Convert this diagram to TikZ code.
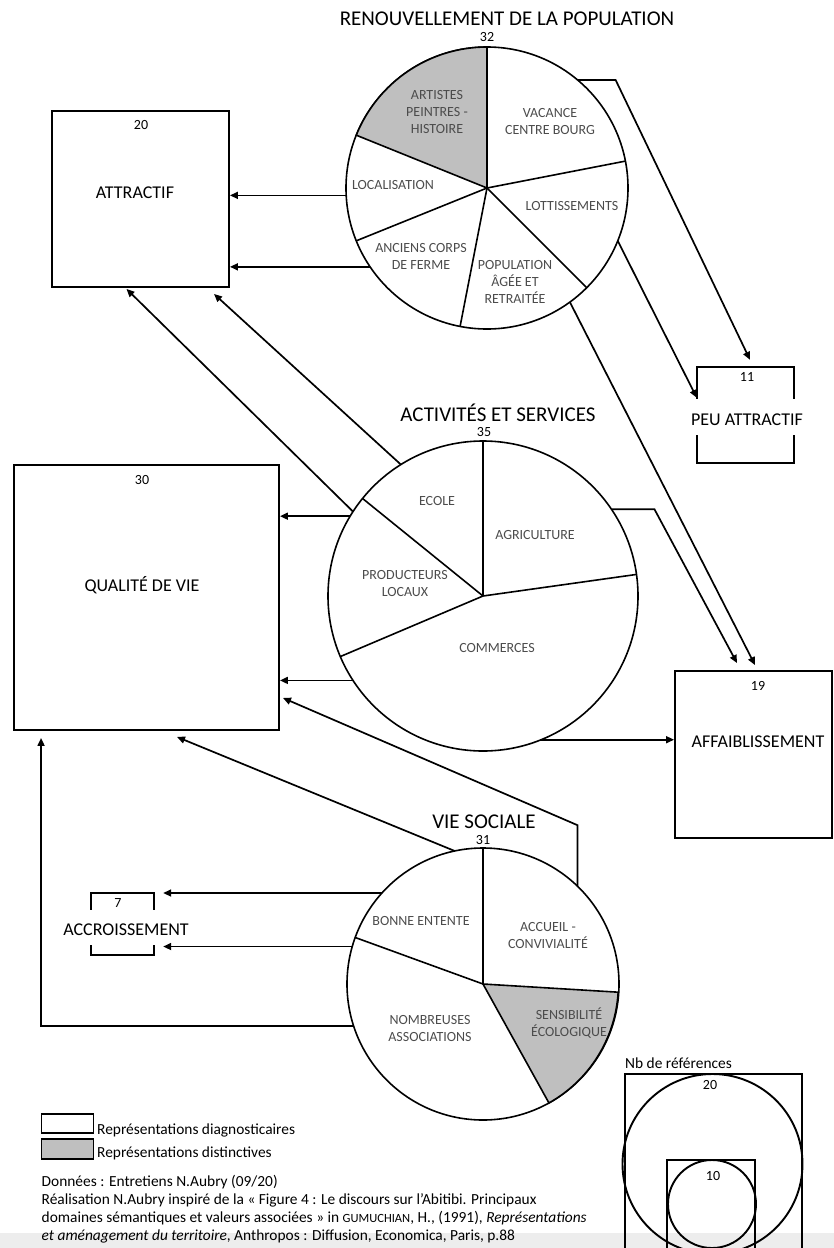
\documentclass[tikz,border=0pt]{standalone}
\usepackage{fontspec}
\setmainfont{Carlito}
\usetikzlibrary{arrows.meta}
\tikzset{%
	piedisc/.style = { circle, draw, line width=1.6pt, inner sep=0pt, outer sep=0pt },
	slicecut/.style = { line width=1.6pt },
	distinctive/.style = { fill=black!25, draw, line width=1.6pt },
	flow/.style = { line width=1.7pt, -{Triangle[length=8pt, width=7pt]} },
	bigbox/.style = { draw, line width=1.9pt, inner sep=0pt },
	hollowbox/.style = { inner sep=0pt },
	bracketline/.style = { line width=1.9pt },
	grouptitle/.style = { font=\fontsize{21}{24}\selectfont },
	boxtext/.style = { font=\fontsize{18}{21}\selectfont },
	countnum/.style = { font=\fontsize{14}{16}\selectfont },
	slicetext/.style = { font=\fontsize{14}{17}\selectfont, text=black!70, align=center },
	notetext/.style = { font=\fontsize{15.4}{18}\selectfont, anchor=base west, inner sep=0pt }
}

\begin{document}
\begin{tikzpicture}[x=1pt, y=1pt]
	\useasboundingbox (0,0) rectangle (834,-1248);
	\clip (0,0) rectangle (834,-1248);
	% bande grise du bas
	\fill[black!7] (0,-1233) rectangle (834,-1248);

	% renouvellement de la population
	\node[grouptitle] (renouvtitle) at (507,-19) {RENOUVELLEMENT DE LA POPULATION};
	\node[countnum] (renouvnum) at (487,-37) {32};
	\node[piedisc, minimum size=282] (renouv) at (487,-188) {};
	\filldraw[distinctive] (renouv.center) -- (renouv.90) arc[start angle=90, end angle=158, radius=141] -- cycle;
	\foreach \a in {11,315,259,202}
		\draw[slicecut] (renouv.center) -- (renouv.\a);
	\node[slicetext] (artistes) at (437,-112) {ARTISTES\\PEINTRES -\\HISTOIRE};
	\node[slicetext] (vacance) at (550,-122) {VACANCE\\CENTRE BOURG};
	\node[slicetext] (localisation) at (393,-185) {LOCALISATION};
	\node[slicetext] (lottissements) at (572,-206) {LOTTISSEMENTS};
	\node[slicetext] (anciens) at (421,-256) {ANCIENS CORPS\\DE FERME};
	\node[slicetext] (population) at (515,-282) {POPULATION\\ÂGÉE ET\\RETRAITÉE};

	% activites et services
	\node[grouptitle] (activtitle) at (498,-413) {ACTIVITÉS ET SERVICES};
	\node[countnum] (activnum) at (484,-432) {35};
	\node[piedisc, minimum size=310] (activ) at (483,-596) {};
	\foreach \a in {90,8,203,141}
		\draw[slicecut] (activ.center) -- (activ.\a);
	\node[slicetext] (ecole) at (437,-501) {ECOLE};
	\node[slicetext] (agriculture) at (535,-535) {AGRICULTURE};
	\node[slicetext] (producteurs) at (405,-583) {PRODUCTEURS\\LOCAUX};
	\node[slicetext] (commerces) at (497,-648) {COMMERCES};

	% vie sociale
	\node[grouptitle] (vietitle) at (484,-822) {VIE SOCIALE};
	\node[countnum] (vienum) at (483,-840) {31};
	\node[piedisc, minimum size=272] (vie) at (483,-984) {};
	\filldraw[distinctive] (vie.center) -- (vie.299.3) arc[start angle=299.3, end angle=356.7, radius=136] -- cycle;
	\foreach \a in {90,160.3}
		\draw[slicecut] (vie.center) -- (vie.\a);
	\node[slicetext] (entente) at (421,-921) {BONNE ENTENTE};
	\node[slicetext] (accueil) at (548,-935) {ACCUEIL -\\CONVIVIALITÉ};
	\node[slicetext] (sensibilite) at (569,-1023) {SENSIBILITÉ\\ÉCOLOGIQUE};
	\node[slicetext] (associations) at (430,-1028) {NOMBREUSES\\ASSOCIATIONS};

	% valeurs
	\node[bigbox, minimum width=177, minimum height=176] (attractif) at (140.5,-199) {};
	\node[countnum] (attractifnum) at (141,-125) {20};
	\node[boxtext] (attractiftext) at (135,-193) {ATTRACTIF};

	\node[bigbox, minimum width=265, minimum height=265] (qual) at (146.5,-597.5) {};
	\node[countnum] (qualnum) at (142,-480) {30};
	\node[boxtext] (qualtext) at (142,-585) {QUALITÉ DE VIE};

	\node[bigbox, minimum width=157, minimum height=167] (aff) at (753.5,-754.5) {};
	\node[countnum] (affnum) at (758,-686) {19};
	\node[boxtext] (afftext) at (758,-742) {AFFAIBLISSEMENT};

	\node[hollowbox, minimum width=97, minimum height=96] (peu) at (745.5,-415) {};
	\draw[bracketline] ([yshift=-32]peu.north west) -- (peu.north west) -- (peu.north east) -- ([yshift=-32]peu.north east);
	\draw[bracketline] ([yshift=28]peu.south west) -- (peu.south west) -- (peu.south east) -- ([yshift=28]peu.south east);
	\node[countnum] (peunum) at (747,-377) {11};
	\node[boxtext] (peutext) at (747,-420) {PEU ATTRACTIF};

	\node[hollowbox, minimum width=63, minimum height=62] (acc) at (122.5,-924) {};
	\draw[bracketline] ([yshift=-17]acc.north west) -- (acc.north west) -- (acc.north east) -- ([yshift=-17]acc.north east);
	\draw[bracketline] ([yshift=10]acc.south west) -- (acc.south west) -- (acc.south east) -- ([yshift=10]acc.south east);
	\node[countnum] (accnum) at (118,-903) {7};
	\node[boxtext] (acctext) at (126,-930) {ACCROISSEMENT};
	\coordinate (acctip) at ([xshift=9]acc.east);

	% liaisons
	\draw[flow] (renouv.183) -- (renouv.183 -| attractif.east);
	\draw[flow] (renouv.214) -- (renouv.214 -| attractif.east);
	\draw[flow] (renouv.50) -- ++(38,0) -- ([shift={(4.5,7)}]peu.north);
	\draw[flow] (renouv.338) -- ([yshift=-31]peu.north west);
	\draw[flow] (renouv.306) -- ([shift={(1.5,5)}]aff.north);
	\draw[flow] (activ.147.6) -- ([shift={(-14,-1)}]attractif.south);
	\draw[flow] (activ.122) -- ([shift={(73.5,-6)}]attractif.south);
	\draw[flow] (activ.34.4) -- ++(43,0) -- ([shift={(-16.5,7)}]aff.north);
	\draw[flow] (activ.292.4) -- (activ.292.4 -| aff.west);
	\draw[flow] (activ.149.3) -- (activ.149.3 -| qual.east);
	\draw[flow] (activ.213.6) -- (activ.213.6 -| qual.east);
	\draw[flow] (vie.46.2) -- ++(0,61) -- ([shift={(3,33)}]qual.south east);
	\draw[flow] (vie.102.6) -- ([shift={(30.5,-6)}]qual.south);
	\draw[flow] (vie.198.6) -| ([shift={(28,-7)}]qual.south west);
	\draw[flow] (vie.138.5) -- (vie.138.5 -| acctip);
	\draw[flow] (vie.164.5) -- (vie.164.5 -| acctip);

	% legende
	\node[draw, line width=1.4pt, minimum width=52, minimum height=19, inner sep=0pt] (legdiag) at (67.5,-1123.5) {};
	\node[draw, line width=1.4pt, fill=black!25, minimum width=52, minimum height=20, inner sep=0pt] (legdist) at (67.5,-1149) {};
	\node[notetext] (legdiagtext) at (97,-1134) {Représentations diagnosticaires};
	\node[notetext] (legdisttext) at (97,-1157) {Représentations distinctives};
	\node[notetext] (source1) at (41.5,-1186) {Données : Entretiens N.Aubry (09/20)};
	\node[notetext] (source2) at (41.5,-1204) {Réalisation N.Aubry inspiré de la « Figure 4 : Le discours sur l’Abitibi. Principaux};
	\node[notetext] (source3) at (41.5,-1222) {domaines sémantiques et valeurs associées » in {\fontsize{12.5}{18}\selectfont GUMUCHIAN}, H., (1991), \textit{Représentations}};
	\node[notetext] (source4) at (41.5,-1240) {\textit{et aménagement du territoire}, Anthropos : Diffusion, Economica, Paris, p.88};

	% nb de references
	\node[notetext] (nbref) at (625,-1068) {Nb de références};
	\draw[bracketline] (625,-1074) rectangle (801.7,-1300);
	\draw[bracketline] (712.5,-1164) circle[radius=90];
	\draw[bracketline] (666.7,-1160) rectangle (755,-1300);
	\draw[bracketline] (712,-1204) circle[radius=44];
	\node[countnum] (nbvingt) at (710,-1085) {20};
	\node[countnum] (nbdix) at (713,-1176) {10};
\end{tikzpicture}
\end{document}
